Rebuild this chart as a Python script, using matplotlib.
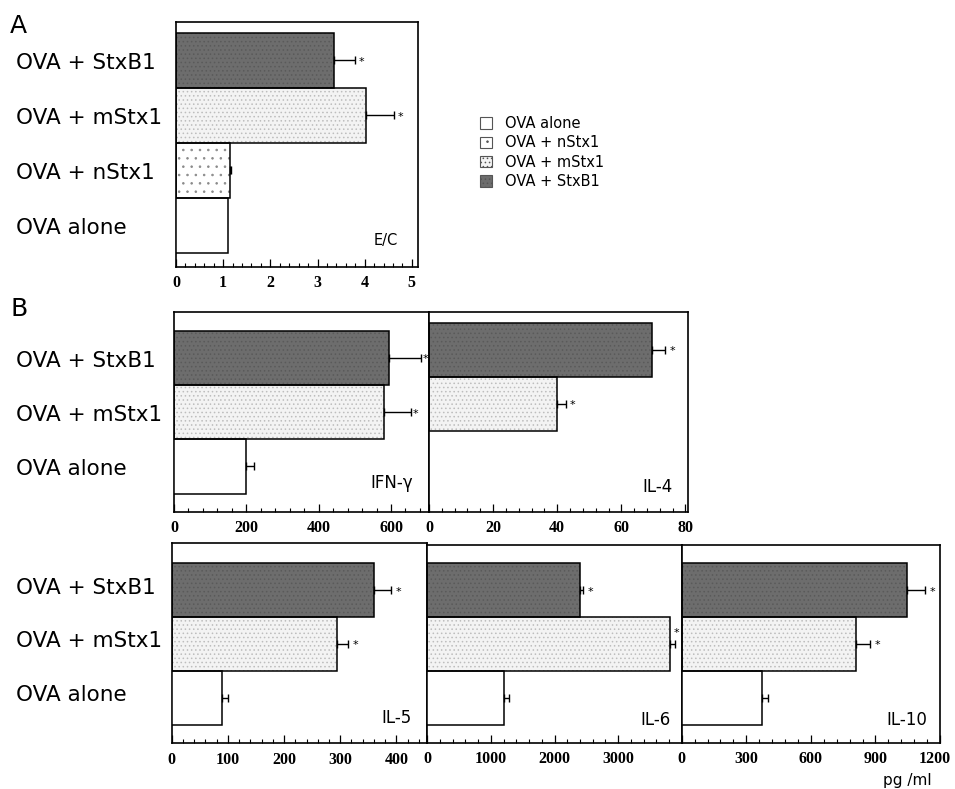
import matplotlib
matplotlib.use("Agg")
import matplotlib.pyplot as plt
import matplotlib.transforms as mtrans
from matplotlib.patches import Patch
from matplotlib.ticker import MultipleLocator, FixedLocator

plt.rcParams['font.family'] = ['DejaVu Sans']
plt.rcParams['hatch.linewidth'] = 0.6

# ---------------- data ----------------
groups_A = ['OVA alone', 'OVA + nStx1', 'OVA + mStx1', 'OVA + StxB1']
ec_mean = [1.10, 1.14, 4.03, 3.35]
ec_err = [0.0, 0.03, 0.59, 0.44]
ec_sig = [False, False, True, True]

groups_B = ['OVA alone', 'OVA + mStx1', 'OVA + StxB1']
sig_B = [False, True, True]
ifn_mean = [200, 580, 594]
ifn_err = [20, 74, 89]
il4_mean = [0, 39.9, 69.5]
il4_err = [0, 2.8, 4.2]
il5_mean = [90, 294, 360]
il5_err = [11, 20, 31]
il6_mean = [1213, 3822, 2405]
il6_err = [78, 80, 47]
il10_mean = [372, 812, 1049]
il10_err = [31, 65, 82]

ticks_A = [0, 1, 2, 3, 4, 5]
ticks_ifn = [0, 200, 400, 600]
ticks_il4 = [0, 20, 40, 60, 80]
ticks_il5 = [0, 100, 200, 300, 400]
ticks_il6 = [0, 1000, 2000, 3000]
ticks_il10 = [0, 300, 600, 900, 1200]

# ---------------- styles ----------------
STYLE = {
    'OVA alone':   dict(fc='white', hatch=None, hc=None),
    'OVA + nStx1': dict(fc='white', hatch='..', hc='#8a8a8a'),
    'OVA + mStx1': dict(fc='#f3f3f3', hatch='....', hc='#bdbdbd'),
    'OVA + StxB1': dict(fc='#6d6d6d', hatch='....', hc='#5a5a5a'),
}

W, H = 955, 789
fig = plt.figure(figsize=(W / 100, H / 100), dpi=100)


def make_ax(l, r, t, b):
    return fig.add_axes([l / W, 1 - b / H, (r - l) / W, (b - t) / H])


def draw_panel(ax, groups, mean, err, sig, ylim, xlim, ticks, minor, label, lab_pos,
               star_above=None, star_gap=5):
    pos = list(range(len(groups)))
    for p, g, m in zip(pos, groups, mean):
        st = STYLE[g]
        if m <= 0:
            continue
        if st['hatch']:
            ax.barh(p, m, height=1.0, color=st['fc'], hatch=st['hatch'],
                    edgecolor=st['hc'], linewidth=0, zorder=2)
            ax.barh(p, m, height=1.0, fill=False, edgecolor='black',
                    linewidth=1.1, zorder=3)
        else:
            ax.barh(p, m, height=1.0, color=st['fc'], edgecolor='black',
                    linewidth=1.1, zorder=3)
    for p, m, e, s in zip(pos, mean, err, sig):
        if m <= 0:
            continue
        if e > 0:
            ax.errorbar([m], [p], xerr=[[0], [e]], fmt='none', ecolor='black',
                        elinewidth=1.0, capsize=2.8, capthick=1.0, zorder=4)
        if s:
            if star_above is not None and p == star_above:
                ax.annotate('*', (m + e, p), xytext=(1, 8), textcoords='offset points',
                            ha='center', va='center', fontsize=8)
            else:
                ax.annotate('*', (m + e, p), xytext=(star_gap, -1),
                            textcoords='offset points',
                            ha='center', va='center', fontsize=8)
    ax.set_xlim(*xlim)
    ax.set_ylim(*ylim)
    ax.set_yticks([])
    ax.xaxis.set_major_locator(FixedLocator(ticks))
    ax.xaxis.set_minor_locator(MultipleLocator(minor))
    ax.tick_params(axis='x', which='major', direction='in', length=6, width=0.9, pad=6,
                   labelsize=11.5)
    ax.tick_params(axis='x', which='minor', direction='in', length=3, width=0.8)
    for t in ax.get_xticklabels():
        t.set_fontfamily('Liberation Serif')
        t.set_fontweight('bold')
    for sp in ax.spines.values():
        sp.set_linewidth(1.2)
    ax.text(lab_pos[0], lab_pos[1], label, transform=ax.transAxes, ha='right',
            va='baseline', fontsize=12)
    return pos


def row_labels(ax, groups, pos, dy=0.0):
    tr = mtrans.blended_transform_factory(fig.transFigure, ax.transData)
    for g, p in zip(groups, pos):
        fig.text(16 / W, p - dy, g, transform=tr, ha='left', va='center',
                 fontsize=15.5)


# Panel A
axA = make_ax(176, 418, 22, 267)
posA = draw_panel(axA, groups_A, ec_mean, ec_err, ec_sig, (-0.755, 3.7), (0, 5.13),
                  ticks_A, 0.2, 'E/C', (0.915, 0.09))
axA.texts[-1].set_fontsize(10.5)
row_labels(axA, groups_A, posA, dy=0.05)
fig.text(10 / W, 1 - 33 / H, 'A', fontsize=18, ha='left', va='baseline')

# Legend
handles = [Patch(facecolor=STYLE[g]['fc'], hatch=STYLE[g]['hatch'],
                 edgecolor='#555555', linewidth=0.8) for g in groups_A]
fig.legend(handles=handles, labels=groups_A, loc='upper left',
           bbox_to_anchor=(480 / W, 1 - 116 / H), frameon=False, fontsize=10.5,
           handlelength=0.8, handleheight=0.8, handletextpad=0.9, labelspacing=0.3,
           borderpad=0, borderaxespad=0)

# Panel B
fig.text(10 / W, 1 - 316 / H, 'B', fontsize=18, ha='left', va='baseline')

ax_ifn = make_ax(174, 429, 312, 512)
posB = draw_panel(ax_ifn, groups_B, ifn_mean, ifn_err, sig_B, (-0.84, 2.845), (0, 705),
                  ticks_ifn, 40, 'IFN-γ', (0.937, 0.12), star_gap=3.5)
row_labels(ax_ifn, groups_B, posB, dy=0.05)

ax_il4 = make_ax(429, 688, 312, 512)
draw_panel(ax_il4, groups_B, il4_mean, il4_err, sig_B, (-1.008, 2.696), (0, 80.8),
           ticks_il4, 4, 'IL-4', (0.942, 0.10))

ax_il5 = make_ax(171.7, 427.3, 543.3, 743.3)
draw_panel(ax_il5, groups_B, il5_mean, il5_err, sig_B, (-0.84, 2.87), (0, 455),
           ticks_il5, 20, 'IL-5', (0.94, 0.10))
row_labels(ax_il5, groups_B, posB, dy=-0.05)

ax_il6 = make_ax(427.3, 681.7, 545, 743)
draw_panel(ax_il6, groups_B, il6_mean, il6_err, sig_B, (-0.84, 2.84), (0, 4000),
           ticks_il6, 200, 'IL-6', (0.955, 0.09), star_above=1)

ax_il10 = make_ax(681.7, 940, 545, 743)
draw_panel(ax_il10, groups_B, il10_mean, il10_err, sig_B, (-0.84, 2.84), (0, 1200),
           ticks_il10, 60, 'IL-10', (0.95, 0.09))
# nudge the last tick label slightly left so it stays inside the figure
last_tick = ax_il10.xaxis.get_major_ticks()[-1]
last_tick.label1.set_transform(
    last_tick.label1.get_transform()
    + mtrans.ScaledTranslation(-5 / 100, 0, fig.dpi_scale_trans))

fig.text(907 / W, 1 - 781 / H, 'pg /ml', ha='center', va='center', fontsize=11)

fig.savefig('out.png', dpi=100)
